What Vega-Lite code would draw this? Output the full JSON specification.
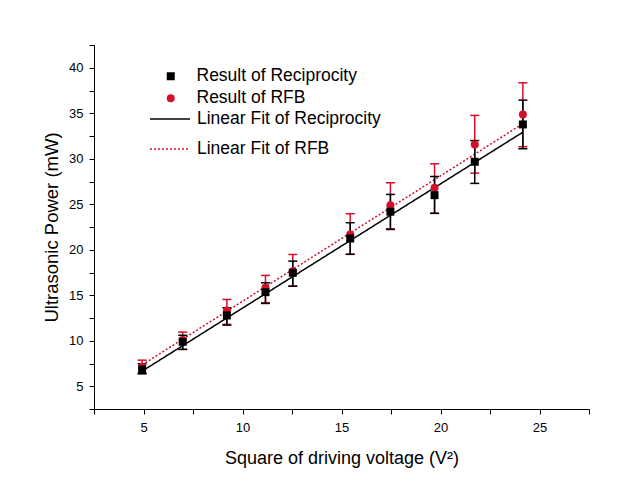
{
  "$schema": "https://vega.github.io/schema/vega-lite/v6.json",
  "width": 495,
  "height": 364,
  "autosize": {"type": "none"},
  "padding": {"left": 94, "top": 45, "right": 30, "bottom": 81},
  "background": "white",
  "config": {
    "view": {"stroke": null},
    "font": "Liberation Sans",
    "axis": {
      "grid": false,
      "domainColor": "black",
      "domainWidth": 1,
      "tickColor": "black",
      "tickWidth": 1,
      "tickSize": 5,
      "labelColor": "black",
      "labelFont": "Liberation Sans",
      "labelFontSize": 13,
      "titleFont": "Liberation Sans",
      "titleFontWeight": "normal",
      "titleColor": "black",
      "labelOverlap": false,
      "labelFlush": false
    },
    "axisX": {"labelPadding": 7, "titlePadding": 15, "titleFontSize": 18},
    "axisY": {"labelPadding": 6, "titlePadding": 7, "titleFontSize": 18.5},
    "legend": {
      "title": null,
      "labelFont": "Liberation Sans",
      "labelFontSize": 17.5,
      "labelColor": "black",
      "labelLimit": 400,
      "padding": 0,
      "symbolOpacity": 1
    }
  },
  "datasets": {
    "points": [
      {"series": "Result of RFB", "x": 4.93, "y": 7.14, "lo": 6.4, "hi": 7.87},
      {"series": "Result of RFB", "x": 6.98, "y": 10.07, "lo": 9.05, "hi": 10.95},
      {"series": "Result of RFB", "x": 9.21, "y": 13.33, "lo": 11.8, "hi": 14.54},
      {"series": "Result of RFB", "x": 11.16, "y": 15.82, "lo": 14.18, "hi": 17.18},
      {"series": "Result of RFB", "x": 12.54, "y": 17.65, "lo": 16.0, "hi": 19.48},
      {"series": "Result of RFB", "x": 15.44, "y": 21.68, "lo": 19.5, "hi": 23.96},
      {"series": "Result of RFB", "x": 17.47, "y": 24.9, "lo": 22.3, "hi": 27.36},
      {"series": "Result of RFB", "x": 19.7, "y": 26.81, "lo": 24.02, "hi": 29.45},
      {"series": "Result of RFB", "x": 21.73, "y": 31.57, "lo": 28.42, "hi": 34.76},
      {"series": "Result of RFB", "x": 24.16, "y": 34.87, "lo": 31.32, "hi": 38.35},
      {"series": "Result of Reciprocity", "x": 4.93, "y": 6.85, "lo": 6.37, "hi": 7.47},
      {"series": "Result of Reciprocity", "x": 6.98, "y": 9.89, "lo": 9.05, "hi": 10.6},
      {"series": "Result of Reciprocity", "x": 9.21, "y": 12.78, "lo": 11.72, "hi": 13.63},
      {"series": "Result of Reciprocity", "x": 11.16, "y": 15.34, "lo": 14.1, "hi": 16.37},
      {"series": "Result of Reciprocity", "x": 12.54, "y": 17.47, "lo": 16.0, "hi": 18.75},
      {"series": "Result of Reciprocity", "x": 15.44, "y": 21.24, "lo": 19.5, "hi": 22.97},
      {"series": "Result of Reciprocity", "x": 17.47, "y": 24.18, "lo": 22.23, "hi": 26.08},
      {"series": "Result of Reciprocity", "x": 19.7, "y": 26.0, "lo": 24.0, "hi": 28.05},
      {"series": "Result of Reciprocity", "x": 21.73, "y": 29.67, "lo": 27.29, "hi": 32.0},
      {"series": "Result of Reciprocity", "x": 24.16, "y": 33.77, "lo": 31.1, "hi": 36.44}
    ],
    "fits": [
      {"series": "Linear Fit of Reciprocity", "x": 4.93, "y": 6.66},
      {"series": "Linear Fit of Reciprocity", "x": 24.16, "y": 32.92},
      {"series": "Linear Fit of RFB", "x": 4.93, "y": 7.35},
      {"series": "Linear Fit of RFB", "x": 24.16, "y": 33.85}
    ]
  },
  "encoding": {
    "x": {
      "field": "x", "type": "quantitative",
      "title": "Square of driving voltage (V²)",
      "scale": {"domain": [2.5, 27.5], "nice": false, "zero": false},
      "axis": {
        "values": [2.5, 5, 7.5, 10, 12.5, 15, 17.5, 20, 22.5, 25, 27.5],
        "labelExpr": "datum.value % 5 === 0 ? datum.label : ''"
      }
    }
  },
  "layer": [
    {
      "data": {"name": "fits"},
      "mark": {"type": "line", "strokeWidth": 1.5},
      "encoding": {
        "y": {"field": "y", "type": "quantitative", "title": "Ultrasonic Power (mW)",
              "scale": {"domain": [2.5, 42.5], "nice": false, "zero": false},
              "axis": {"values": [2.5, 5, 7.5, 10, 12.5, 15, 17.5, 20, 22.5, 25, 27.5, 30, 32.5, 35, 37.5, 40, 42.5], "labelExpr": "datum.value % 5 === 0 ? datum.label : ''"}},
        "stroke": {
          "field": "series", "type": "nominal",
          "scale": {"domain": ["Linear Fit of Reciprocity", "Linear Fit of RFB"], "range": ["#000000", "#d40f2a"]},
          "legend": {"orient": "none", "legendX": 55, "legendY": 53, "symbolSize": 1600, "symbolStrokeWidth": 1.5, "labelOffset": 6, "rowPadding": -15}
        },
        "strokeDash": {
          "field": "series", "type": "nominal",
          "scale": {"domain": ["Linear Fit of Reciprocity", "Linear Fit of RFB"], "range": [[1, 0], [2, 2]]},
          "legend": {"orient": "none", "legendX": 55, "legendY": 53, "symbolSize": 1600, "symbolStrokeWidth": 1.5, "labelOffset": 6, "rowPadding": -15}
        }
      }
    },
    {
      "data": {"name": "points"},
      "transform": [{"filter": "datum.series === 'Result of RFB'"}],
      "layer": [
        {"mark": {"type": "rule", "strokeWidth": 1.5, "color": "#d40f2a"},
         "encoding": {"y": {"field": "lo", "type": "quantitative", "title": "Ultrasonic Power (mW)", "axis": {"values": [2.5, 5, 7.5, 10, 12.5, 15, 17.5, 20, 22.5, 25, 27.5, 30, 32.5, 35, 37.5, 40, 42.5], "labelExpr": "datum.value % 5 === 0 ? datum.label : ''"}}, "y2": {"field": "hi"}}},
        {"mark": {"type": "tick", "orient": "horizontal", "size": 9, "thickness": 1.5, "opacity": 1, "color": "#d40f2a"},
         "encoding": {"y": {"field": "lo", "type": "quantitative", "title": "Ultrasonic Power (mW)", "axis": {"values": [2.5, 5, 7.5, 10, 12.5, 15, 17.5, 20, 22.5, 25, 27.5, 30, 32.5, 35, 37.5, 40, 42.5], "labelExpr": "datum.value % 5 === 0 ? datum.label : ''"}}}},
        {"mark": {"type": "tick", "orient": "horizontal", "size": 9, "thickness": 1.5, "opacity": 1, "color": "#d40f2a"},
         "encoding": {"y": {"field": "hi", "type": "quantitative", "title": "Ultrasonic Power (mW)", "axis": {"values": [2.5, 5, 7.5, 10, 12.5, 15, 17.5, 20, 22.5, 25, 27.5, 30, 32.5, 35, 37.5, 40, 42.5], "labelExpr": "datum.value % 5 === 0 ? datum.label : ''"}}}}
      ]
    },
    {
      "data": {"name": "points"},
      "transform": [{"filter": "datum.series === 'Result of Reciprocity'"}],
      "layer": [
        {"mark": {"type": "rule", "strokeWidth": 1.5, "color": "#000000"},
         "encoding": {"y": {"field": "lo", "type": "quantitative", "title": "Ultrasonic Power (mW)", "axis": {"values": [2.5, 5, 7.5, 10, 12.5, 15, 17.5, 20, 22.5, 25, 27.5, 30, 32.5, 35, 37.5, 40, 42.5], "labelExpr": "datum.value % 5 === 0 ? datum.label : ''"}}, "y2": {"field": "hi"}}},
        {"mark": {"type": "tick", "orient": "horizontal", "size": 9, "thickness": 1.5, "opacity": 1, "color": "#000000"},
         "encoding": {"y": {"field": "lo", "type": "quantitative", "title": "Ultrasonic Power (mW)", "axis": {"values": [2.5, 5, 7.5, 10, 12.5, 15, 17.5, 20, 22.5, 25, 27.5, 30, 32.5, 35, 37.5, 40, 42.5], "labelExpr": "datum.value % 5 === 0 ? datum.label : ''"}}}},
        {"mark": {"type": "tick", "orient": "horizontal", "size": 9, "thickness": 1.5, "opacity": 1, "color": "#000000"},
         "encoding": {"y": {"field": "hi", "type": "quantitative", "title": "Ultrasonic Power (mW)", "axis": {"values": [2.5, 5, 7.5, 10, 12.5, 15, 17.5, 20, 22.5, 25, 27.5, 30, 32.5, 35, 37.5, 40, 42.5], "labelExpr": "datum.value % 5 === 0 ? datum.label : ''"}}}}
      ]
    },
    {
      "data": {"name": "points"},
      "mark": {"type": "point", "filled": true, "opacity": 1, "size": 64},
      "encoding": {
        "y": {"field": "y", "type": "quantitative", "title": "Ultrasonic Power (mW)",
              "axis": {"values": [2.5, 5, 7.5, 10, 12.5, 15, 17.5, 20, 22.5, 25, 27.5, 30, 32.5, 35, 37.5, 40, 42.5], "labelExpr": "datum.value % 5 === 0 ? datum.label : ''"}},
        "fill": {
          "field": "series", "type": "nominal",
          "scale": {"domain": ["Result of Reciprocity", "Result of RFB"], "range": ["#000000", "#d40f2a"]},
          "legend": {"orient": "none", "legendX": 68, "legendY": 22.5, "labelOffset": 17, "symbolSize": 64, "rowPadding": 3}
        },
        "shape": {
          "field": "series", "type": "nominal",
          "scale": {"domain": ["Result of Reciprocity", "Result of RFB"], "range": ["square", "circle"]},
          "legend": {"orient": "none", "legendX": 68, "legendY": 22.5, "labelOffset": 17, "symbolSize": 64, "rowPadding": 3}
        }
      }
    }
  ]
}
